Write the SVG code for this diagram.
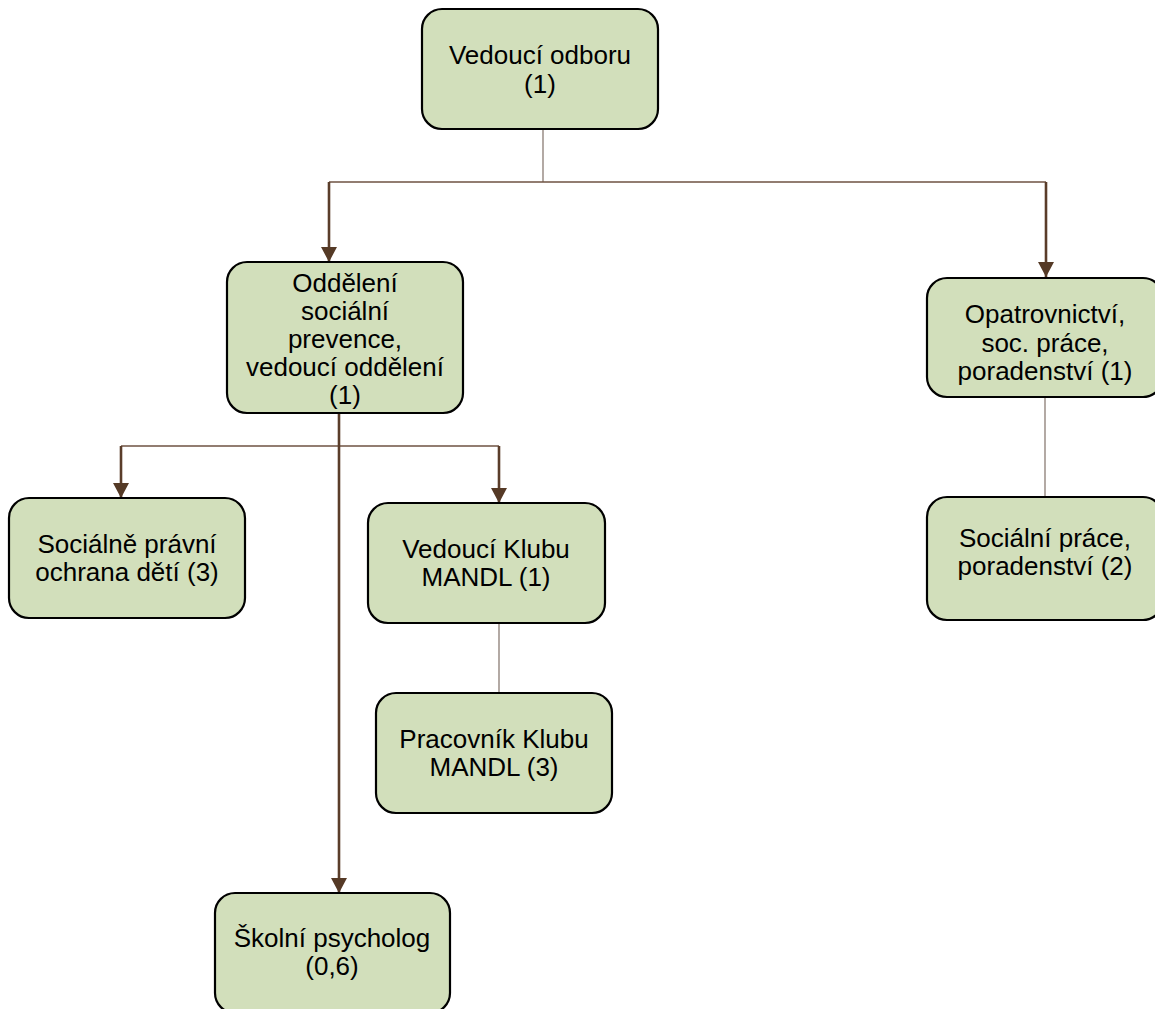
<svg xmlns="http://www.w3.org/2000/svg" width="1155" height="1009" viewBox="0 0 1155 1009">
<style>
.box{fill:#d2dfbb;stroke:#000;stroke-width:2.2}
.t{font-family:"Liberation Sans",Arial,sans-serif;font-size:26px;fill:#000;text-anchor:middle}
.arr{stroke:#5a3d2a;stroke-width:2.6;fill:none}
.h{stroke:#6e5242;stroke-width:1.3;fill:none}
.thin{stroke:#8a7c74;stroke-width:1.3;fill:none}
</style>
<defs>
<marker id="ah" viewBox="0 0 15 16" refX="15" refY="8" markerWidth="15" markerHeight="16" markerUnits="userSpaceOnUse" orient="auto">
<path d="M0,0 L15,8 L0,16 z" fill="#553a26"/>
</marker>
</defs>
<g id="connectors">
<line class="thin" x1="543" y1="129" x2="543" y2="182"/>
<line class="h" x1="329" y1="182" x2="1046" y2="182"/>
<line class="arr" x1="329" y1="182" x2="329" y2="262" marker-end="url(#ah)"/>
<line class="arr" x1="1046" y1="182" x2="1046" y2="277" marker-end="url(#ah)"/>
<line class="h" x1="121" y1="446" x2="499" y2="446"/>
<line class="arr" x1="121" y1="446" x2="121" y2="498" marker-end="url(#ah)"/>
<line class="arr" x1="499" y1="446" x2="499" y2="503" marker-end="url(#ah)"/>
<line class="arr" x1="339" y1="413" x2="339" y2="893" marker-end="url(#ah)"/>
<line class="thin" x1="499" y1="623" x2="499" y2="693"/>
<line class="thin" x1="1045" y1="397" x2="1045" y2="497"/>
</g>
<g id="n-vedouci-odboru">
<rect class="box" x="422" y="9" width="236" height="120" rx="20"/>
<text class="t" x="540" y="64">Vedoucí odboru</text>
<text class="t" x="540" y="93">(1)</text>
</g>
<g id="n-oddeleni">
<rect class="box" x="227" y="262" width="236" height="151" rx="20"/>
<text class="t" x="345" y="292">Oddělení</text>
<text class="t" x="345" y="320">sociální</text>
<text class="t" x="345" y="348">prevence,</text>
<text class="t" x="345" y="376">vedoucí oddělení</text>
<text class="t" x="345" y="404">(1)</text>
</g>
<g id="n-opatrovnictvi">
<rect class="box" x="927" y="278" width="236" height="119" rx="20"/>
<text class="t" x="1045" y="323">Opatrovnictví,</text>
<text class="t" x="1045" y="352">soc. práce,</text>
<text class="t" x="1045" y="380">poradenství (1)</text>
</g>
<g id="n-ospod">
<rect class="box" x="9" y="498" width="236" height="120" rx="20"/>
<text class="t" x="127" y="553">Sociálně právní</text>
<text class="t" x="127" y="581">ochrana dětí (3)</text>
</g>
<g id="n-vedouci-klubu">
<rect class="box" x="368" y="503" width="237" height="120" rx="20"/>
<text class="t" x="486" y="558">Vedoucí Klubu</text>
<text class="t" x="486" y="586">MANDL (1)</text>
</g>
<g id="n-pracovnik-klubu">
<rect class="box" x="376" y="693" width="236" height="120" rx="20"/>
<text class="t" x="494" y="748">Pracovník Klubu</text>
<text class="t" x="494" y="776">MANDL (3)</text>
</g>
<g id="n-socialni-prace">
<rect class="box" x="927" y="497" width="236" height="123" rx="20"/>
<text class="t" x="1045" y="547">Sociální práce,</text>
<text class="t" x="1045" y="575">poradenství (2)</text>
</g>
<g id="n-skolni-psycholog">
<rect class="box" x="215" y="893" width="235" height="120" rx="20"/>
<text class="t" x="332" y="947">Školní psycholog</text>
<text class="t" x="332" y="975">(0,6)</text>
</g>
</svg>
